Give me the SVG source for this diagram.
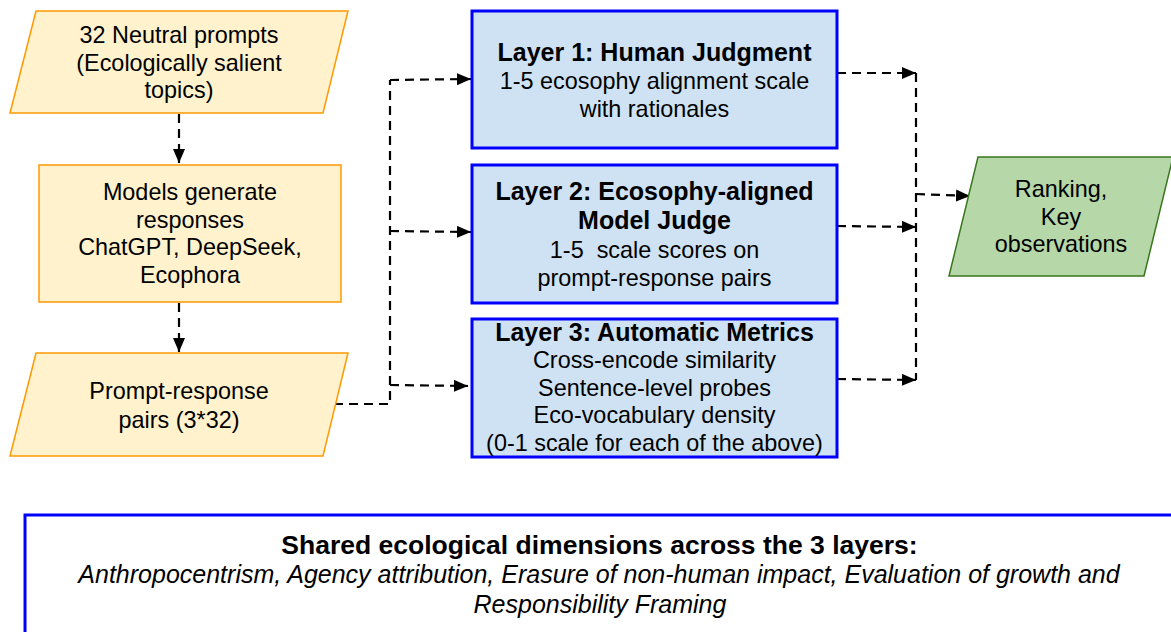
<svg xmlns="http://www.w3.org/2000/svg" width="1171" height="632" viewBox="0 0 1171 632">
<style>
text{font-family:"Liberation Sans",Arial,sans-serif;fill:#000;text-anchor:middle}
.r{font-size:23.4px}
.b{font-size:25px;font-weight:bold}
.inp{fill:#fff2cc;stroke:#ff9900;stroke-width:1.5}
.lay{fill:#cfe2f3;stroke:#0000ff;stroke-width:3}
.box{fill:#ffffff;stroke:#0000ff;stroke-width:3}
.out{fill:#b6d7a8;stroke:#38761d;stroke-width:1.5}
.c{fill:none;stroke:#000;stroke-width:2.2;stroke-dasharray:9,6}
.a{marker-end:url(#ah)}
</style>
<defs>
<marker id="ah" markerUnits="userSpaceOnUse" markerWidth="16" markerHeight="13" refX="14" refY="6" orient="auto">
<path d="M0,0 L14,6 L0,12 z" fill="#000"/>
</marker>
</defs>
<rect width="1171" height="632" fill="#fff"/>
<g id="connectors">
<path class="c a" d="M179,114 L179,163"/>
<path class="c a" d="M179,303 L179,352"/>
<path class="c" d="M334,404 L390,404 L390,80"/>
<path class="c a" d="M390,80 L471,79"/>
<path class="c a" d="M390,231 L471,232"/>
<path class="c a" d="M390,385 L468,386"/>
<path class="c a" d="M837,73 L916,73"/>
<path class="c a" d="M837,226 L916,227"/>
<path class="c a" d="M837,379 L916,380"/>
<path class="c" d="M916,73 L916,380"/>
<path class="c a" d="M916,194 L970,196"/>
</g>
<g id="n-prompts">
<polygon class="inp" points="36,11 348,11 323,113 10,113"/>
<text class="r" x="179" y="43">32 Neutral prompts</text>
<text class="r" x="179" y="71">(Ecologically salient</text>
<text class="r" x="179" y="98">topics)</text>
</g>
<g id="n-models">
<rect class="inp" x="39" y="165" width="302" height="137"/>
<text class="r" x="190" y="200">Models generate</text>
<text class="r" x="190" y="228">responses</text>
<text class="r" x="190" y="255">ChatGPT, DeepSeek,</text>
<text class="r" x="190" y="283">Ecophora</text>
</g>
<g id="n-pairs">
<polygon class="inp" points="36,353 348,353 323,456 10,456"/>
<text class="r" x="179" y="399">Prompt-response</text>
<text class="r" x="179" y="428">pairs (3*32)</text>
</g>
<g id="n-layer1">
<rect class="lay" x="472" y="11" width="365" height="137"/>
<text class="b" x="654.5" y="61">Layer 1: Human Judgment</text>
<text class="r" x="654.5" y="89">1-5 ecosophy alignment scale</text>
<text class="r" x="654.5" y="117">with rationales</text>
</g>
<g id="n-layer2">
<rect class="lay" x="472" y="165" width="365" height="138"/>
<text class="b" x="654.5" y="200">Layer 2: Ecosophy-aligned</text>
<text class="b" x="654.5" y="229">Model Judge</text>
<text class="r" x="654.5" y="258" xml:space="preserve">1-5  scale scores on</text>
<text class="r" x="654.5" y="286">prompt-response pairs</text>
</g>
<g id="n-layer3">
<rect class="lay" x="472" y="319" width="365" height="138"/>
<text class="b" x="654.5" y="341">Layer 3: Automatic Metrics</text>
<text class="r" x="654.5" y="368">Cross-encode similarity</text>
<text class="r" x="654.5" y="396">Sentence-level probes</text>
<text class="r" x="654.5" y="423">Eco-vocabulary density</text>
<text class="r" x="654.5" y="451">(0-1 scale for each of the above)</text>
</g>
<g id="n-ranking">
<polygon class="out" points="978,157 1173,157 1144,276 949,276"/>
<text class="r" x="1061" y="197">Ranking,</text>
<text class="r" x="1061" y="225">Key</text>
<text class="r" x="1061" y="252">observations</text>
</g>
<g id="n-shared">
<rect class="box" x="25" y="515" width="1148" height="140"/>
<text x="599.5" y="554" style="font-size:26.5px;font-weight:bold">Shared ecological dimensions across the 3 layers:</text>
<text x="599" y="583" style="font-size:25px;font-style:italic">Anthropocentrism, Agency attribution, Erasure of non-human impact, Evaluation of growth and</text>
<text x="600" y="613" style="font-size:25px;font-style:italic">Responsibility Framing</text>
</g>
</svg>
